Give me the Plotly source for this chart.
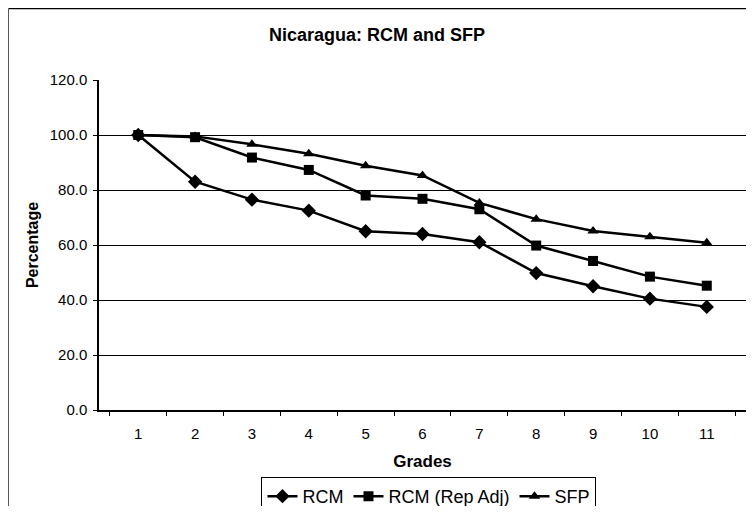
import plotly.graph_objects as go

grades = [str(g) for g in range(1, 12)]
rcm = [100.0, 83.0, 76.5, 72.5, 65.0, 64.0, 61.0, 49.8, 45.0, 40.5, 37.5]
rcm_rep_adj = [100.0, 99.2, 91.8, 87.3, 78.0, 76.8, 73.0, 59.8, 54.2, 48.5, 45.2]
sfp = [100.0, 99.5, 96.6, 93.2, 88.8, 85.3, 75.3, 69.4, 65.1, 63.0, 60.8]

series = [
    ("RCM", rcm, "diamond", 11),
    ("RCM (Rep Adj)", rcm_rep_adj, "square", 10),
    ("SFP", sfp, "triangle-up", 10),
]

font = "Liberation Sans, Arial, sans-serif"

fig = go.Figure()
for name, vals, sym, sz in series:
    fig.add_trace(go.Scatter(
        x=grades, y=vals, name=name, mode="lines+markers",
        line=dict(color="black", width=2.5),
        marker=dict(symbol=sym, size=sz, color="black"),
    ))

# partial outer chart border (cropped in the scan)
fig.add_shape(type="line", xref="paper", yref="paper",
              x0=-0.1399, x1=1.02, y0=1.2167, y1=1.2167,
              line=dict(color="black", width=1.5))
fig.add_shape(type="line", xref="paper", yref="paper",
              x0=-0.1399, x1=-0.1399, y0=1.2167, y1=-0.3,
              line=dict(color="#555555", width=1))

# page body has an 8px margin, keep the figure inside the 754x514 window
# autoexpand off so the (cropped) legend does not squeeze the plot
fig.update_layout(
    width=738, height=498,
    margin=dict(l=91, r=0, t=72, b=96, autoexpand=False),
    paper_bgcolor="white", plot_bgcolor="white",
    font=dict(family=font, size=15, color="black"),
    title=dict(text="<b>Nicaragua: RCM and SFP</b>", x=0.5, xanchor="center",
               y=0.946, yanchor="middle", font=dict(size=18)),
    showlegend=True,
    legend=dict(orientation="h", x=0.51, xanchor="center", y=-0.203, yanchor="top",
                bordercolor="black", borderwidth=1, font=dict(size=18),
                itemwidth=30, tracegroupgap=0),
)
fig.update_xaxes(
    type="category", tickson="boundaries", ticks="outside", ticklen=4,
    tickcolor="black", showline=True, linecolor="black", linewidth=2,
    showgrid=False, tickfont=dict(size=15), ticklabelstandoff=9,
    title=dict(text="<b>Grades</b>", font=dict(size=17), standoff=14),
)
fig.update_yaxes(
    range=[0, 120], dtick=20, tickformat=".1f", ticks="outside", ticklen=4,
    tickcolor="black", showline=True, linecolor="black", linewidth=1.5,
    showgrid=True, gridcolor="black", gridwidth=1, zeroline=False,
    tickfont=dict(size=15), ticklabelstandoff=3,
    title=dict(text="<b>Percentage</b>", font=dict(size=16), standoff=7),
)

fig.write_html("out.html")
